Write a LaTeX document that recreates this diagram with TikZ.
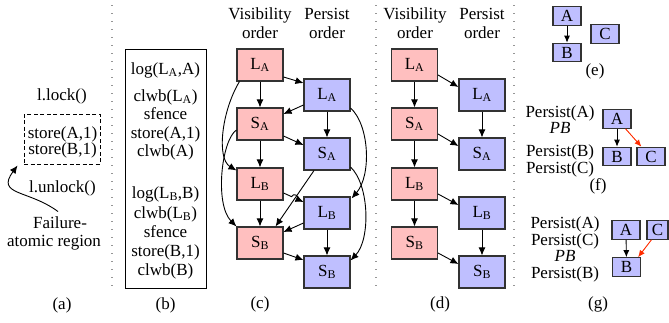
\documentclass[tikz,border=0pt]{standalone}
\usepackage{fontspec}
\setmainfont{Liberation Serif}
\usetikzlibrary{arrows.meta,calc}
\definecolor{redfill}{RGB}{255,191,191}
\definecolor{bluefill}{RGB}{191,191,255}
\definecolor{boxline}{RGB}{50,50,50}
\definecolor{hot}{RGB}{255,45,0}
\definecolor{sepgray}{RGB}{150,150,150}

\begin{document}
\begin{tikzpicture}[x=1pt,y=-1pt,
  every node/.style={font=\fontsize{17}{20}\selectfont, inner sep=0pt},
  txt/.style={anchor=base},
  rbox/.style={draw=boxline, fill=redfill, line width=1.1pt, minimum width=46pt, minimum height=32pt},
  bbox/.style={rbox, fill=bluefill},
  sbox/.style={draw=boxline, fill=bluefill, line width=1.1pt, minimum width=28pt, minimum height=18.5pt},
  arr/.style={-{Latex[length=8pt,width=7pt]}, line width=0.9pt},
  sarr/.style={-{Latex[length=7pt,width=6pt]}, line width=0.9pt},
  harr/.style={sarr, draw=hot, fill=hot},
  sep/.style={sepgray, line width=1.4pt, dash pattern=on 1.4pt off 6.6pt},
]
\useasboundingbox (0,0) rectangle (669,322);

% ---- separators
\coordinate (s1t) at (112,5);   \coordinate (s1b) at (112,290);
\coordinate (s2t) at (376,5);   \coordinate (s2b) at (376,290);
\coordinate (s3t) at (514,5);   \coordinate (s3b) at (514,290);
\draw[sep] (s1t) -- (s1b);
\draw[sep] (s2t) -- (s2b);
\draw[sep] (s3t) -- (s3b);

% ---- (a) failure-atomic region
\node[txt] (lock) at (62,100) {l.lock()};
\node[draw, line width=0.9pt, dash pattern=on 4pt off 2.5pt,
      minimum width=76pt, minimum height=50pt] (fa) at (62,139) {};
\node[txt] (stA) at (62.5,138) {store(A,1)};
\node[txt] (stB) at (62.5,154) {store(B,1)};
\node[txt] (unlock) at (62.5,192) {l.unlock()};
\node[txt] (fail1) at (60,228.5) {Failure-};
\node[txt] (fail2) at (54,246.5) {atomic region};
\draw[arr] ([xshift=-2pt,yshift=5pt]fail1.north)
  .. controls +(-30,-22) and +(-22,30) .. ([xshift=-6pt,yshift=-1pt]fa.south west);
\node[txt] (capa) at (62,309) {(a)};

% ---- (b) logging code
\node[draw, line width=0.8pt, minimum width=81pt, minimum height=239pt] (code) at (165.5,168.5) {};
\node[txt] (b1) at (165.5,74) {log(L\textsubscript{A},A)};
\node[txt] (b2) at (165.5,101) {clwb(L\textsubscript{A})};
\node[txt] (b3) at (165.5,119) {sfence};
\node[txt] (b4) at (165.5,138) {store(A,1)};
\node[txt] (b5) at (165.5,156) {clwb(A)};
\node[txt] (b6) at (165.5,198) {log(L\textsubscript{B},B)};
\node[txt] (b7) at (165.5,218) {clwb(L\textsubscript{B})};
\node[txt] (b8) at (165.5,237.5) {sfence};
\node[txt] (b9) at (165.5,256) {store(B,1)};
\node[txt] (b10) at (165.5,275) {clwb(B)};
\node[txt] (capb) at (165.5,309) {(b)};

% ---- (c) visibility and persist orders
\node[txt] (cv1) at (260,19.5) {Visibility};
\node[txt] (cv2) at (260,38.5) {order};
\node[txt] (cp1) at (327,19.5) {Persist};
\node[txt] (cp2) at (327,38.5) {order};
\node[rbox] (rLA) at (260,65) {L\textsubscript{A}};
\node[rbox] (rSA) at (260,124) {S\textsubscript{A}};
\node[rbox] (rLB) at (260,184) {L\textsubscript{B}};
\node[rbox] (rSB) at (260,243) {S\textsubscript{B}};
\node[bbox] (bLA) at (327,95) {L\textsubscript{A}};
\node[bbox] (bSA) at (327,154) {S\textsubscript{A}};
\node[bbox] (bLB) at (327,213) {L\textsubscript{B}};
\node[bbox] (bSB) at (327,272) {S\textsubscript{B}};
\draw[arr] (rLA) -- (rSA);
\draw[arr] (rSA) -- (rLB);
\draw[arr] (rLB) -- (rSB);
\draw[arr] (bLA) -- (bSA);
\draw[arr] (bLB) -- (bSB);
\draw[arr] ([yshift=-12pt]rLA.east) -- ([yshift=12pt]bLA.west);
\draw[arr] ([yshift=-10pt]bLA.west) -- ([yshift=10pt]rSA.east);
\draw[arr] ([yshift=-12pt]rSA.east) -- ([yshift=9pt]bSA.west);
\draw[arr] ([xshift=-13pt]bSA.south) -- ([xshift=-8pt]rSB.north east);
\draw[arr] ([yshift=-9pt]rLB.east) -- ($([yshift=-9pt]rLB.east)!0.40!([yshift=11pt]bLB.west)$)
  to[bend left=90, looseness=1.7] ($([yshift=-9pt]rLB.east)!0.70!([yshift=11pt]bLB.west)$)
  -- ([yshift=11pt]bLB.west);
\draw[arr] ([yshift=-10pt]bLB.west) -- ([yshift=11pt]rSB.east);
\draw[arr] ([yshift=-10pt]rSB.east) -- ([yshift=12pt]bSB.west);
\draw[arr] ([xshift=3pt]rLA.south west)
  .. controls +(-18,30) and +(-20,-12) .. ([yshift=-3pt]rLB.north west);
\draw[arr] ([yshift=-6pt]rSA.west)
  .. controls +(-15,10) and +(-22,-22) .. (rSB.north west);
\draw[arr] ([yshift=-13pt]bLA.east)
  .. controls +(19,17) and +(20,-23) .. ([xshift=1pt,yshift=-2pt]bLB.north east);
\draw[arr] ([yshift=-13pt]bSA.east)
  .. controls +(19,18) and +(20,-21) .. ([yshift=-5pt]bSB.north east);
\node[txt] (capc) at (260,308) {(c)};

% ---- (d) orders without cross-region edges
\node[txt] (dv1) at (415,19.5) {Visibility};
\node[txt] (dv2) at (415,38.5) {order};
\node[txt] (dp1) at (482,19.5) {Persist};
\node[txt] (dp2) at (482,38.5) {order};
\node[rbox] (dLA) at (414.5,65) {L\textsubscript{A}};
\node[rbox] (dSA) at (414.5,124) {S\textsubscript{A}};
\node[rbox] (dLB) at (414.5,184) {L\textsubscript{B}};
\node[rbox] (dSB) at (414.5,243) {S\textsubscript{B}};
\node[bbox] (eLA) at (482,95) {L\textsubscript{A}};
\node[bbox] (eSA) at (482,154) {S\textsubscript{A}};
\node[bbox] (eLB) at (482,213) {L\textsubscript{B}};
\node[bbox] (eSB) at (482,272) {S\textsubscript{B}};
\draw[arr] (dLA) -- (dSA);
\draw[arr] (dSA) -- (dLB);
\draw[arr] (dLB) -- (dSB);
\draw[arr] (eLA) -- (eSA);
\draw[arr] (eLB) -- (eSB);
\draw[arr] ([yshift=-10pt]dLA.east) -- ([yshift=8pt]eLA.west);
\draw[arr] ([yshift=-10pt]dSA.east) -- ([yshift=8pt]eSA.west);
\draw[arr] ([yshift=-10pt]dLB.east) -- ([yshift=8pt]eLB.west);
\draw[arr] ([yshift=-10pt]dSB.east) -- ([yshift=8pt]eSB.west);
\node[txt] (capd) at (440,308) {(d)};

% ---- (e)
\node[sbox] (eA) at (567,16) {A};
\node[sbox] (eB) at (567,52.5) {B};
\node[sbox] (eC) at (605,34) {C};
\draw[sarr] (eA) -- (eB);
\node[txt] (cape) at (595,75) {(e)};

% ---- (f)
\node[txt] (f1) at (560,117) {Persist(A)};
\node[txt] (f2) at (560,133) {\textit{PB}};
\node[txt] (f3) at (560,156.5) {Persist(B)};
\node[txt] (f4) at (560,173) {Persist(C)};
\node[sbox] (fA) at (617,119) {A};
\node[sbox] (fB) at (617,156.5) {B};
\node[sbox] (fC) at (651,156.5) {C};
\draw[sarr] (fA) -- (fB);
\draw[harr] ([xshift=-6pt]fA.south east) -- ([xshift=5pt]fC.north west);
\node[txt] (capf) at (598,190) {(f)};

% ---- (g)
\node[txt] (g1) at (565,228.5) {Persist(A)};
\node[txt] (g2) at (565,245) {Persist(C)};
\node[txt] (g3) at (565,261.5) {\textit{PB}};
\node[txt] (g4) at (565,278) {Persist(B)};
\node[sbox] (gA) at (626,230) {A};
\node[sbox, minimum width=21pt] (gC) at (657.5,230) {C};
\node[sbox] (gB) at (626.5,267) {B};
\draw[sarr] (gA) -- (gB);
\draw[harr] ([xshift=5pt]gC.south west) -- ([xshift=-3pt]gB.north east);
\node[txt] (capg) at (598,308) {(g)};
\end{tikzpicture}
\end{document}
